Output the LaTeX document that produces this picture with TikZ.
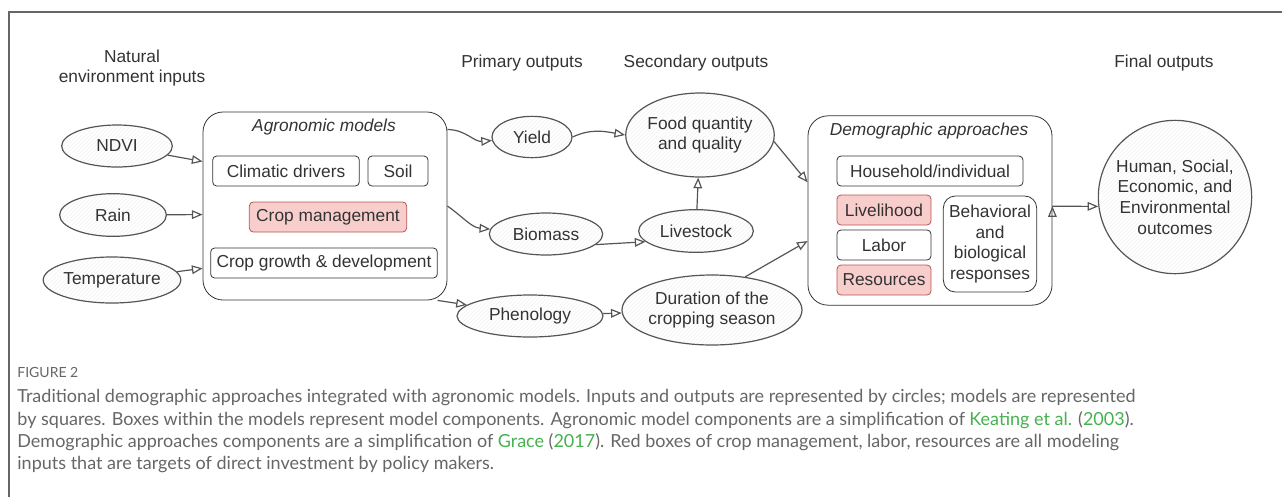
\documentclass[tikz,border=0pt]{standalone}
\usepackage{fontspec}
\setmainfont{Liberation Sans}
\newfontfamily\capfont{Lato}
\usetikzlibrary{arrows.meta,shapes.geometric,patterns}

\definecolor{inkgray}{HTML}{333333}
\definecolor{linegray}{HTML}{555555}
\definecolor{redfill}{HTML}{F8CECC}
\definecolor{reddraw}{HTML}{B85450}
\definecolor{capgray}{HTML}{666666}
\definecolor{citegreen}{HTML}{45B14F}

\newcommand{\diagsize}{\fontsize{13}{15.5}\selectfont}
\newcommand{\refgreen}[1]{\textcolor{citegreen}{#1}}

\begin{document}
\begin{tikzpicture}
        [x = 0.75pt, y = -0.75pt,
            > = {Triangle[open, length=8pt, width=6.5pt]},
            semithick,
            font = \diagsize,
            text = inkgray,
            io node/.style = {ellipse, draw=linegray, pattern=north east lines, pattern color=black!5, line width=0.9pt, inner sep=0pt, align=center},
            model box/.style = {draw=black!80, rounded corners=15pt, minimum width=183pt, minimum height=141pt},
            part box/.style = {draw=black!80, rounded corners=3pt, minimum height=22.5pt, inner sep=0pt},
            red box/.style = {part box, draw=reddraw, fill=redfill},
            head/.style = {align=center, inner sep=0pt},
            caption line/.style = {font=\capfont\fontsize{13.5}{18}\selectfont, text=capgray, anchor=base west, inner sep=0pt}]

        \useasboundingbox (0,0) rectangle (1282,497);
        \draw[capgray, line width=0.8pt] (9,497) -- (9,12) -- (1282,12);

        % column headings
        \node[head] (hin) at (132,68) {Natural\\environment inputs};
        \node[head] (hpri) at (522,63) {Primary outputs};
        \node[head] (hsec) at (696,63) {Secondary outputs};
        \node[head] (hfin) at (1164,63) {Final outputs};

        % inputs
        \node[io node, minimum width=83pt, minimum height=31.5pt] (ndvi) at (117,146) {NDVI};
        \node[io node, minimum width=80pt, minimum height=32pt] (rain) at (113,215) {Rain};
        \node[io node, minimum width=94.5pt, minimum height=34.5pt] (temp) at (112,280) {Temperature};

        % agronomic models
        \node[model box] (agro) at (325,206) {};
        \node[inner sep=0pt] (agrot) at (324,127) {\itshape Agronomic models};
        \node[part box, minimum width=110pt] (clim) at (286,171) {Climatic drivers};
        \node[part box, minimum width=45pt] (soil) at (398,171) {Soil};
        \node[red box, minimum width=118pt] (mgmt) at (328,217) {Crop management};
        \node[part box, minimum width=170pt] (grow) at (324,263) {Crop growth \& development};

        % primary and secondary outputs
        \node[io node, minimum width=60pt, minimum height=31pt] (yield) at (532,137) {Yield};
        \node[io node, minimum width=85pt, minimum height=31.5pt] (bio) at (546,234) {Biomass};
        \node[io node, minimum width=109.5pt, minimum height=31.5pt] (phen) at (530,316) {Phenology};
        \node[io node, minimum width=108pt, minimum height=63pt] (food) at (700,135) {Food quantity\\and quality};
        \node[io node, minimum width=86pt, minimum height=32pt] (live) at (696,231) {Livestock};
        \node[io node, minimum width=135pt, minimum height=52.5pt] (dur) at (712,310) {Duration of the\\cropping season};

        % demographic approaches
        \node[model box, minimum height=142pt] (demo) at (930,210.5) {};
        \node[inner sep=0pt] (demot) at (929,131) {\itshape Demographic approaches};
        \node[part box, minimum width=139.5pt] (house) at (930,171) {Household/individual};
        \node[red box, minimum width=70.5pt] (liveli) at (884,210) {Livelihood};
        \node[part box, minimum width=70.5pt] (labor) at (884,245) {Labor};
        \node[red box, minimum width=70.5pt] (res) at (884,280) {Resources};
        \node[part box, rounded corners=9pt, minimum width=70pt, minimum height=72pt, align=center] (behav) at (990,244) {Behavioral\\and\\biological\\responses};

        % final outputs
        \node[io node, circle, minimum size=115pt] (hum) at (1175,197) {Human, Social,\\Economic, and\\Environmental\\outcomes};

        \path[->, draw=linegray, line width=0.9pt]
        (ndvi) edge (agro.160)
        (rain) edge (agro.184)
        (temp) edge (agro.207)
        (agro.32) edge [out=0, in=185] (yield)
        (agro.east) edge [out=-35, in=175] (bio)
        (agro.-40) edge (phen.170)
        (yield.east) edge [out=25, in=170] (food.west)
        (bio.-12) edge (live.192)
        (live) edge (food)
        (phen) edge (dur)
        (food.-5) edge (demo.167)
        (dur.45) edge (demo.194)
        (demo.2) edge (hum.187);

        % caption
        \node[caption line, font=\capfont\fontsize{10.5}{12}\selectfont] (figno) at (17,377) {FIGURE 2};
        \node[caption line] (cap1) at (17,402) {Traditional demographic approaches integrated with agronomic models. Inputs and outputs are represented by circles; models are represented};
        \node[caption line] (cap2) at (17,425) {by squares. Boxes within the models represent model components. Agronomic model components are a simplification of \refgreen{Keating et al.} (\refgreen{2003}).};
        \node[caption line] (cap3) at (17,447) {Demographic approaches components are a simplification of \refgreen{Grace} (\refgreen{2017}). Red boxes of crop management, labor, resources are all modeling};
        \node[caption line] (cap4) at (17,469) {inputs that are targets of direct investment by policy makers.};
    \end{tikzpicture}
\end{document}
